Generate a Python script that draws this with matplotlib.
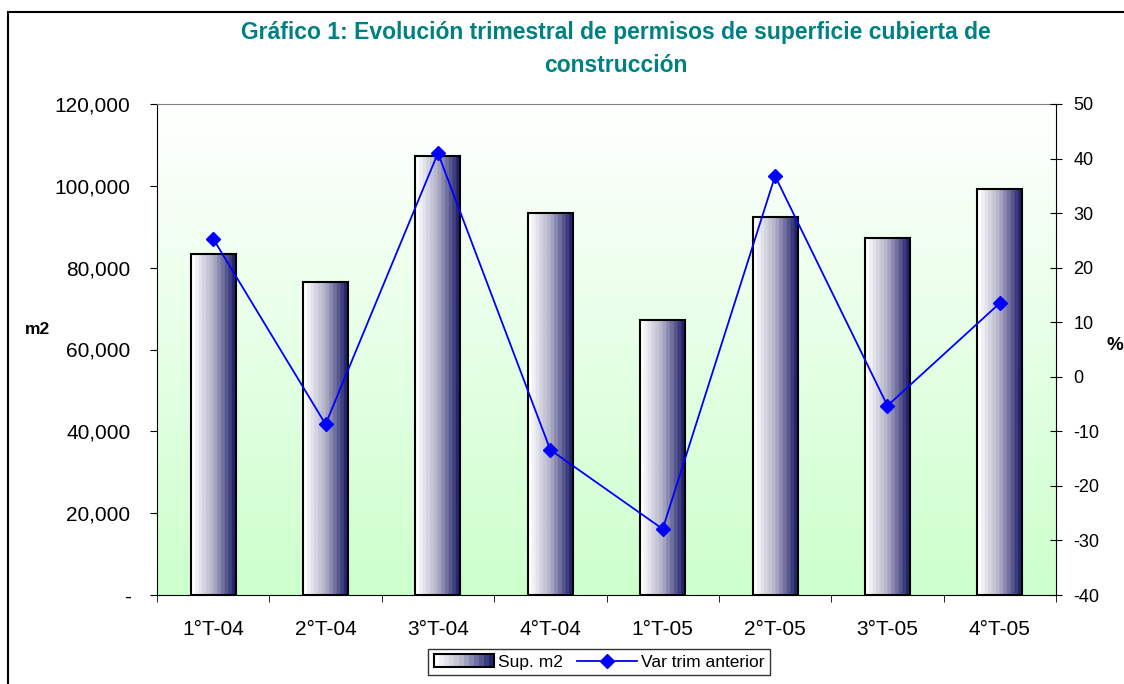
import numpy as np
import matplotlib.pyplot as plt
from matplotlib.colors import LinearSegmentedColormap
from matplotlib.lines import Line2D
from matplotlib.patches import Rectangle, Patch
from matplotlib.ticker import FuncFormatter

plt.rcParams['font.family'] = ['Liberation Sans', 'DejaVu Sans']

trimestres = ['1°T-04', '2°T-04', '3°T-04', '4°T-04', '1°T-05', '2°T-05', '3°T-05', '4°T-05']
sup_m2 = [83400, 76500, 107300, 93300, 67200, 92300, 87300, 99200]
var_trim = [25.3, -8.7, 41.0, -13.4, -27.9, 36.8, -5.3, 13.5]

barcmap = LinearSegmentedColormap.from_list('bar', ['#ffffff', '#b0b0c8', '#24246e'], N=12)


class GradientHandler:
    # leyenda: rectangulo con degradado horizontal
    def legend_artist(self, legend, orig_handle, fontsize, handlebox):
        x0, y0 = handlebox.xdescent, handlebox.ydescent
        w, h = handlebox.width, handlebox.height
        n = 12
        for i in range(n):
            r = Rectangle((x0 + w * i / n, y0), w / n, h, facecolor=barcmap(i / (n - 1)),
                          edgecolor='none', transform=handlebox.get_transform())
            handlebox.add_artist(r)
        frame = Rectangle((x0, y0), w, h, facecolor='none', edgecolor='black', lw=1.5,
                          transform=handlebox.get_transform())
        handlebox.add_artist(frame)
        return frame


fig = plt.figure(figsize=(11.24, 6.84), dpi=100)
ax = fig.add_axes([157 / 1124, 1 - 595 / 684, 899 / 1124, 491 / 684])

# marco exterior
fig.add_artist(Rectangle((8 / 1124, -0.1), 1.2, (684 - 12) / 684 + 0.1,
                         transform=fig.transFigure, fill=False, edgecolor='black', lw=1.5))

x = np.arange(len(trimestres))

# fondo degradado: verde claro abajo -> blanco arriba
bg = LinearSegmentedColormap.from_list('bg', ['#ccffcc', '#ffffff'])
grad = np.linspace(0, 1, 256).reshape(-1, 1)
ax.imshow(grad, cmap=bg, aspect='auto', origin='lower',
          extent=(-0.5, 7.5, 0, 120000), zorder=0)

# barras con degradado horizontal
hgrad = np.linspace(0, 1, 256).reshape(1, -1)
width = 0.4
bars = ax.bar(x, sup_m2, width, facecolor='none', edgecolor='black', lw=1.5, zorder=3)
for b in bars:
    im = ax.imshow(hgrad, cmap=barcmap, aspect='auto',
                   extent=(b.get_x(), b.get_x() + b.get_width(), 0, b.get_height()), zorder=2)
    im.set_clip_path(b)
ax.set_xlim(-0.5, len(trimestres) - 0.5)
ax.set_ylim(0, 120000)

ax.set_yticks(np.arange(0, 120001, 20000))
ax.yaxis.set_major_formatter(FuncFormatter(lambda v, p: '-' if v == 0 else f'{int(v):,}'))
ax.set_xticks(x)
ax.set_xticklabels(trimestres)
ax.set_xticks(np.arange(-0.5, 8, 1), minor=True)
ax.tick_params(axis='x', which='major', length=0, labelsize=15, pad=18)
ax.tick_params(axis='x', which='minor', length=5, direction='out')
ax.tick_params(axis='y', labelsize=15, length=5, direction='out', pad=14)
ax.spines['top'].set_color('#808080')
ax.spines['right'].set_visible(False)

ax2 = ax.twinx()
ax2.plot(x, var_trim, color='#0000ff', lw=1.3, marker='D', markersize=7, zorder=5)
ax2.set_ylim(-40, 50)
ax2.set_yticks(np.arange(-40, 51, 10))
ax2.yaxis.set_major_formatter(FuncFormatter(lambda v, p: f'{int(v)}'))
ax2.tick_params(axis='y', labelsize=13, length=9, direction='inout', pad=8)
for s in ['top', 'left', 'bottom']:
    ax2.spines[s].set_visible(False)

fig.text(38 / 1124, 1 - 330 / 684, 'm2', fontsize=12.5, fontweight='bold', va='center', ha='center')
fig.text(1123 / 1124, 1 - 345 / 684, '%', fontsize=13.5, fontweight='bold', va='center', ha='right')

fig.text(616 / 1124, 1 - 49 / 684, 'Gráfico 1: Evolución trimestral de permisos de superficie cubierta de\nconstrucción',
         fontsize=16.5, fontweight='bold', color='#008080', ha='center', va='center', linespacing=1.5)

sup_handle = Patch(label='Sup. m2')
var_handle = Line2D([0], [0], color='#0000ff', marker='D', markersize=7, lw=1.3, label='Var trim anterior')
leg = fig.legend(handles=[sup_handle, var_handle], loc='center',
                 bbox_to_anchor=(599 / 1124, 1 - 662 / 684), ncol=2,
                 handler_map={sup_handle: GradientHandler()},
                 frameon=True, fancybox=False, edgecolor='black', fontsize=12.5,
                 handlelength=3.5, columnspacing=0.8, handletextpad=0.2, borderpad=0.3)
leg.get_frame().set_linewidth(1)

fig.savefig('out.png', dpi=100)
